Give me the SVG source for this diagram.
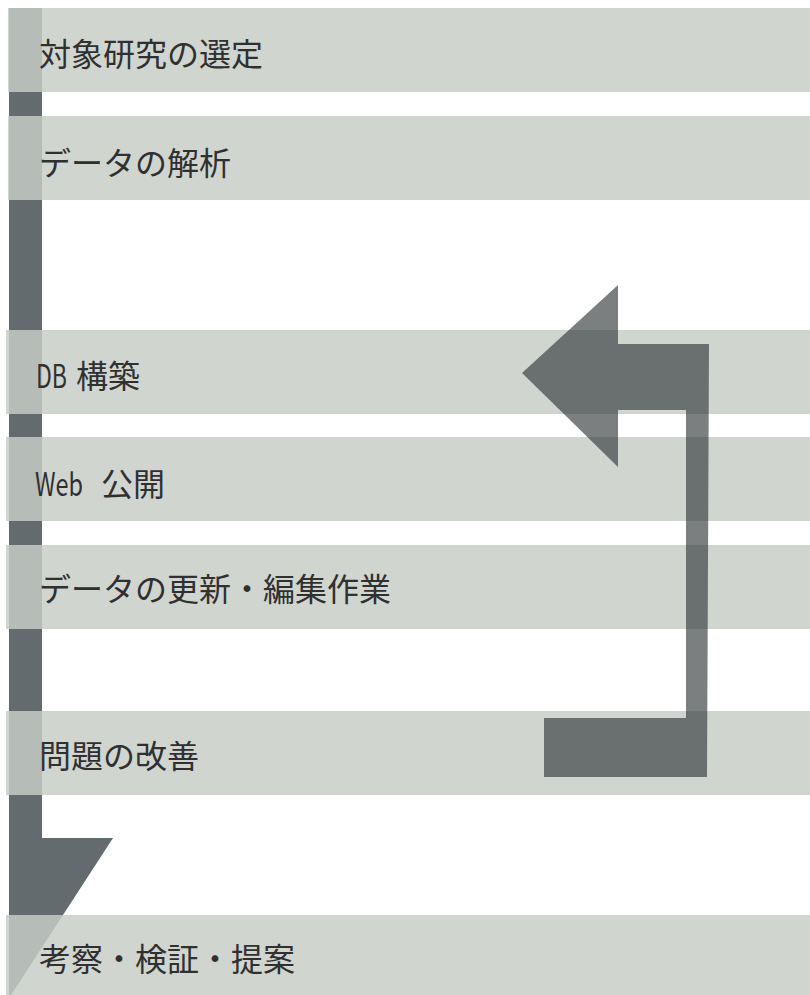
<svg xmlns="http://www.w3.org/2000/svg" width="810" height="995" viewBox="0 0 810 995">
  <style>
    .band { fill: #c6ccc6; fill-opacity: 0.83; }
    .flow { fill: #636b6e; }
    .loop { fill: #313738; fill-opacity: 0.64; }
    .lbl { font-family: "Noto Sans CJK JP", "Noto Sans", sans-serif; font-size: 32px; fill: #303030; }
  </style>
  <rect width="810" height="995" fill="#ffffff"/>
  <g id="connectors">
    <path id="main-flow" class="flow" d="M9,8 H42 V838 H113 L11,995 H9 Z"/>
  </g>
  <g id="step1">
    <rect class="band" x="8" y="8" width="802" height="84"/>
    <text class="lbl" x="39" y="66">対象研究の選定</text>
  </g>
  <g id="step2">
    <rect class="band" x="8" y="116" width="802" height="84"/>
    <text class="lbl" x="39" y="175">データの解析</text>
  </g>
  <g id="step3">
    <rect class="band" x="6" y="330" width="804" height="84"/>
    <text class="lbl" x="36" y="388"><tspan textLength="31" lengthAdjust="spacingAndGlyphs">DB</tspan> <tspan x="76">構築</tspan></text>
  </g>
  <g id="step4">
    <rect class="band" x="6" y="437" width="804" height="84"/>
    <text class="lbl" x="35" y="496"><tspan textLength="48" lengthAdjust="spacingAndGlyphs">Web</tspan> <tspan x="101">公開</tspan></text>
  </g>
  <g id="step5">
    <rect class="band" x="6" y="545" width="804" height="84"/>
    <text class="lbl" x="39" y="601">データの更新・編集作業</text>
  </g>
  <g id="step6">
    <rect class="band" x="6" y="711" width="804" height="84"/>
    <text class="lbl" x="39" y="768">問題の改善</text>
  </g>
  <g id="step7">
    <rect class="band" x="6" y="915" width="804" height="80"/>
    <text class="lbl" x="39" y="971">考察・検証・提案</text>
  </g>
  <g id="connectors-loop">
    <path id="feedback" class="loop" d="M522,373 L618,285 V344 H709 L707,777 H544 V718 H686 V410 H618 V467 Z"/>
  </g>
</svg>
